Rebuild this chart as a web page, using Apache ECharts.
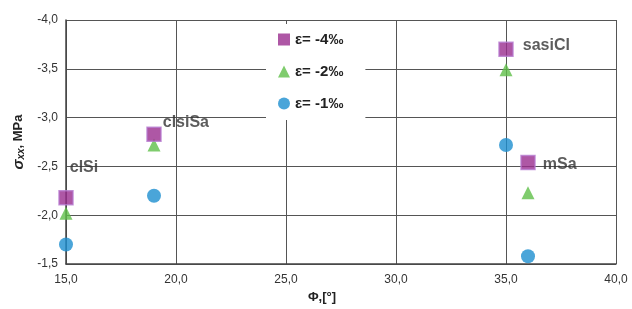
<!DOCTYPE html>
<html>
<head>
    <meta charset="utf-8">
    <title>sigma xx vs phi</title>
    <script src="https://cdn.jsdelivr.net/npm/echarts@6/dist/echarts.min.js"></script>
    <style>
        html, body { margin: 0; padding: 0; background: #fff; }
        #chart { width: 632px; height: 309px; }
    </style>
</head>
<body>
    <div id="chart"></div>
    <script>
    // friction angle per soil
    var phi = [15, 19, 35, 36];
    var soilNames = ['clSi', 'clsiSa', 'sasiCl', 'mSa'];
    var sNames = ['ε= -4‰', 'ε= -2‰', 'ε= -1‰'];
    // sigma xx, MPa
    var eps4 = [-2.18, -2.83, -3.70, -2.54];
    var eps2 = [-2.02, -2.72, -3.49, -2.23];
    var eps1 = [-1.70, -2.20, -2.72, -1.58];

    var labelOffsets = [[-9, -30], [-4, -12], [4, -4], [2, 2]];

    function pts(vals, withLabels) {
        return phi.map(function (x, i) {
            var p = { value: [x, vals[i]] };
            if (withLabels) {
                p.label = {
                    show: true, position: 'right', formatter: soilNames[i],
                    offset: labelOffsets[i], color: '#333', fontSize: 16,
                    fontFamily: 'Liberation Sans', fontWeight: 'bold'
                };
            }
            return p;
        });
    }

    function fmt(v) { return v.toFixed(1).replace('.', ','); }

    var chart = echarts.init(document.getElementById('chart'));
    chart.setOption({
        animation: false,
        textStyle: { fontFamily: 'Liberation Sans' },
        grid: { left: 66, right: 16, top: 20, bottom: 42 },
        legend: {
            orient: 'vertical',
            left: 266, top: 24,
            padding: [8, 22, 9, 12],
            itemGap: 17,
            itemWidth: 12, itemHeight: 12,
            itemStyle: { borderWidth: 0 },
            backgroundColor: '#fff',
            textStyle: { fontSize: 15, fontWeight: 'bold', color: '#222' },
            data: sNames
        },
        xAxis: {
            type: 'value', min: 15, max: 40, interval: 5,
            name: 'Φ,[°]', nameLocation: 'middle', nameGap: 25,
            nameTextStyle: { fontSize: 13, fontWeight: 'bold', color: '#222', padding: [0, 38, 0, 0] },
            axisLine: { show: true, lineStyle: { color: '#444', width: 1.5 } },
            axisTick: { show: false },
            axisLabel: { formatter: fmt, color: '#333', fontSize: 12, margin: 10 },
            splitLine: { show: true, lineStyle: { color: '#555', width: 1 } }
        },
        yAxis: {
            type: 'value', min: -4, max: -1.5, interval: 0.5, inverse: true,
            name: '{s|σ}{sub|xx}{n|, MPa}', nameLocation: 'middle', nameGap: 36,
            nameTextStyle: {
                rich: {
                    s: { fontSize: 15, fontWeight: 'bold', fontStyle: 'italic', color: '#222' },
                    sub: { fontSize: 10, fontWeight: 'bold', fontStyle: 'italic', color: '#222', verticalAlign: 'bottom', padding: [6, 0, 0, 0] },
                    n: { fontSize: 13, fontWeight: 'bold', color: '#222' }
                }
            },
            axisLine: { show: true, onZero: false, lineStyle: { color: '#444', width: 1.5 } },
            axisTick: { show: false },
            axisLabel: { formatter: fmt, color: '#333', fontSize: 12, margin: 8 },
            splitLine: { show: true, lineStyle: { color: '#555', width: 1 } }
        },
        series: [
            {
                name: sNames[0], type: 'scatter', symbol: 'rect', symbolSize: 14,
                itemStyle: { color: '#9a2d8e', borderColor: '#b77bd0', borderWidth: 1.5 },
                data: pts(eps4, true), z: 4
            },
            {
                name: sNames[1], type: 'scatter', symbol: 'triangle', symbolSize: 13,
                itemStyle: { color: '#5fbf48' },
                data: pts(eps2, false), z: 3
            },
            {
                name: sNames[2], type: 'scatter', symbol: 'circle', symbolSize: 14,
                itemStyle: { color: '#1d8fcf' },
                data: pts(eps1, false), z: 3
            }
        ]
    });
    </script>
</body>
</html>
